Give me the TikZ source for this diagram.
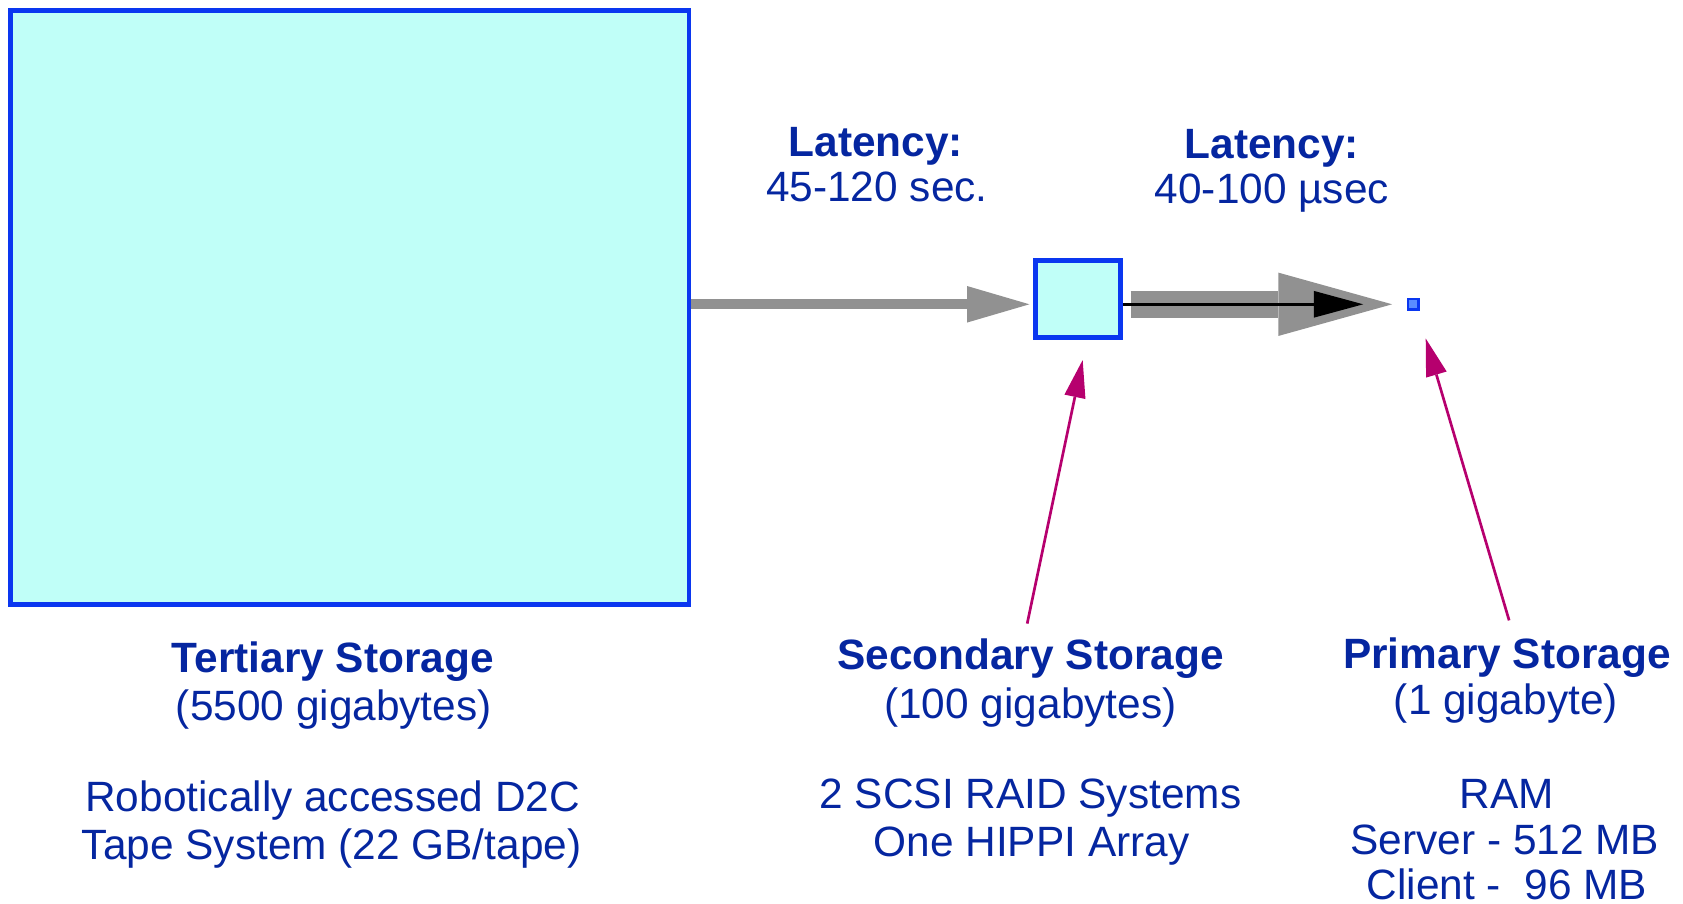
\documentclass[tikz,border=0pt]{standalone}
\usepackage{fontspec}
\setmainfont{Liberation Sans}
\usetikzlibrary{arrows.meta}
\definecolor{txtblue}{RGB}{5,38,160}
\definecolor{bordblue}{RGB}{10,55,240}
\definecolor{cyanfill}{RGB}{192,255,248}
\definecolor{primfill}{RGB}{90,140,255}
\definecolor{arrgray}{RGB}{145,145,145}
\definecolor{ptrmag}{RGB}{182,0,110}
\tikzset{
  store/.style={draw=bordblue, fill=cyanfill, inner sep=0pt, shape=rectangle},
  lbl/.style={text=txtblue, inner sep=0pt, anchor=base, font=\fontsize{39.5pt}{45pt}\selectfont},
  lblb/.style={lbl, font=\fontsize{39.5pt}{45pt}\selectfont\bfseries},
  grayarr/.style={draw=arrgray, line width=#1},
  ptr/.style={draw=ptrmag, line width=2.5pt, -{Triangle[length=35pt,width=20pt,line width=0pt]}}
}
\begin{document}
\begin{tikzpicture}[x=1pt,y=-1pt]
\useasboundingbox (0,0) rectangle (1568,842.2);
% storage boxes
\node[store, line width=4.2pt, minimum width=632pt, minimum height=553pt] (tert) at (326,286.5) {};
\node[store, line width=4.7pt, minimum width=79pt, minimum height=72pt] (sec) at (1004.5,278.5) {};
\node[store, line width=2.2pt, fill=primfill, minimum width=10pt, minimum height=10pt] (prim) at (1316.5,283.5) {};
% latency arrows
\draw[grayarr=9pt, -{Triangle[length=58pt,width=34pt,line width=0pt]}, shorten >=3.6pt]
  (tert.east |- prim.center) -- (sec.west |- prim.center);
\draw[grayarr=25pt, -{Triangle[length=106pt,width=59pt,line width=0pt]}, shorten <=7pt, shorten >=13.4pt]
  (sec.east |- prim.center) -- (prim.west);
\draw[black, line width=3.3pt, -{Triangle[length=46pt,width=25pt,line width=0pt]}, shorten >=40.4pt]
  (sec.east |- prim.center) -- (prim.west);
% latency labels
\node[lblb] (lat1a) at (816,145.4) {Latency:};
\node[lbl] (lat1b) at (817,188) {45-120 sec.};
\node[lblb] (lat2a) at (1185,147.5) {Latency:};
\node[lbl] (lat2b) at (1185,190) {40-100 µsec};
% tertiary labels
\node[lblb] (t1) at (310,627) {Tertiary Storage};
\node[lbl] (t2) at (311,671) {(5500 gigabytes)};
\node[lbl] (t3) at (310,756) {Robotically accessed D2C};
\node[lbl] (t4) at (309,801) {Tape System (22 GB/tape)};
% secondary labels
\node[lblb] (s1) at (960,624) {Secondary Storage};
\node[lbl] (s2) at (960,669) {(100 gigabytes)};
\node[lbl] (s3) at (960,753) {2 SCSI RAID Systems};
\node[lbl] (s4) at (961,798) {One HIPPI Array};
% primary labels
\node[lblb] (p1) at (1404,623) {Primary Storage};
\node[lbl] (p2) at (1403,666) {(1 gigabyte)};
\node[lbl] (p3) at (1404,753) {RAM};
\node[lbl] (p4) at (1402,796) {Server - 512 MB};
\node[lbl] (p5) at (1404,838) {Client -\ \ 96 MB};
% pointers
\coordinate (secptr) at (957,581);
\coordinate (primptr) at (1406,578);
\draw[ptr, shorten >=19pt] (secptr) -- ([xshift=8.1pt]sec.south);
\draw[ptr, shorten >=26.9pt] (primptr) -- ([xshift=4.15pt]prim.south);
\end{tikzpicture}
\end{document}
